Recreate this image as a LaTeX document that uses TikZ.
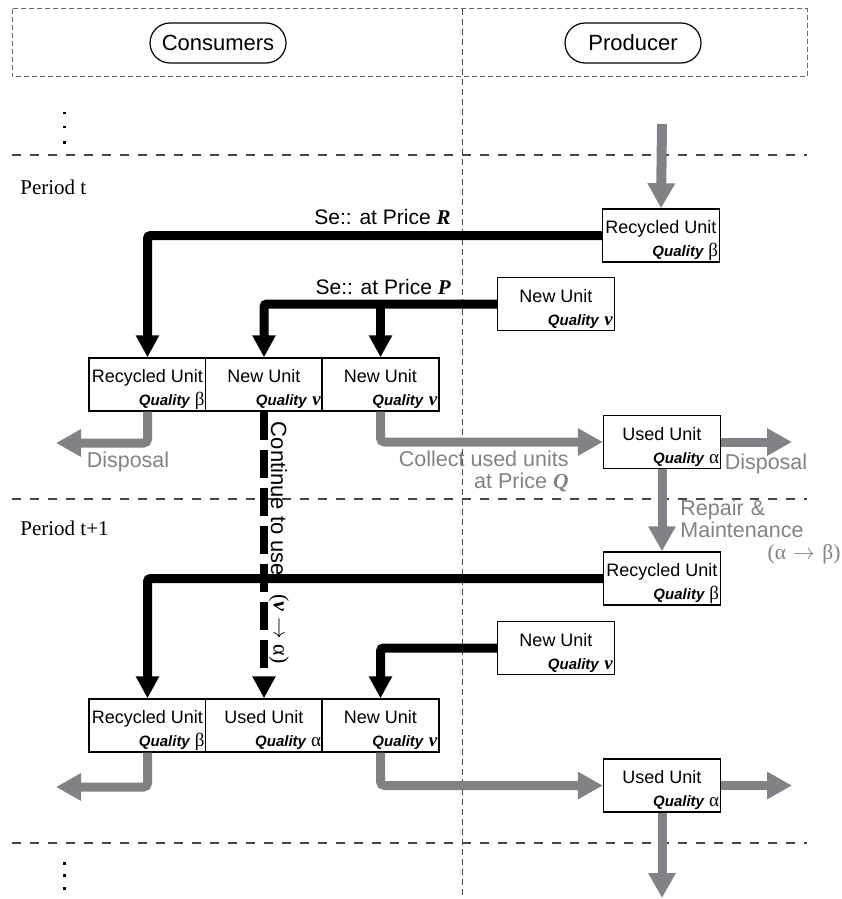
\documentclass[tikz,border=0pt]{standalone}
\usepackage{fontspec}
\setmainfont{Liberation Sans}
\newfontfamily\timesfont{Liberation Serif}
\usepackage{xcolor}
\usepackage{tikz}
\usetikzlibrary{
    arrows.meta,
    calc
}
\definecolor{flowgray}{RGB}{128,130,134}
\definecolor{linegray}{RGB}{70,70,70}
\tikzset{%
   actor/.style={
      draw,
      line width=0.6pt,
      rounded corners=10pt,
      minimum width=68pt,
      minimum height=20pt,
      font=\fontsize{11}{13}\selectfont
   },
   unit/.style={
      draw,
      line width=0.7pt,
      fill=white,
      inner sep=0pt,
      minimum width=58.5pt,
      minimum height=26.5pt,
      font=\fontsize{9}{11.5}\selectfont
   },
   sell/.style={
      line width=4.5pt,
      rounded corners=1.5pt,
      -{Triangle[length=11pt,width=11pt]}
   },
   keep/.style={
      line width=4pt,
      dash pattern=on 14pt off 5pt,
      -{Triangle[length=11pt,width=11pt]}
   },
   flow/.style={
      draw=flowgray,
      line width=4.5pt,
      rounded corners=2pt,
      -{Triangle[length=12.5pt,width=13pt]}
   },
   frame/.style={
      draw=black!60,
      line width=0.5pt,
      dash pattern=on 2.5pt off 1.5pt
   },
   midline/.style={
      draw=linegray,
      line width=0.5pt,
      dash pattern=on 3pt off 2pt
   },
   period/.style={
      draw=linegray,
      line width=0.75pt,
      dash pattern=on 4.5pt off 4.5pt
   },
   graytext/.style={
      text=flowgray,
      inner sep=0pt,
      font=\fontsize{10.75}{11}\selectfont
   },
   saletext/.style={
      inner sep=0pt,
      font=\fontsize{10.5}{12}\selectfont
   },
   periodtext/.style={
      inner sep=0pt,
      font=\timesfont\fontsize{10.5}{12}\selectfont
   },
}
\newcommand\qual[1]{{\fontsize{7.5}{9}\selectfont\bfseries\itshape Quality}~{\timesfont\fontsize{9.5}{11}\selectfont #1}}
\newcommand\unittext[2]{\begin{minipage}{57pt}\vspace*{5pt}\centering #1\par\raggedleft\qual{#2}\par\end{minipage}}
\newcommand\nutxt{\textbf{\textit{ν}}}
\newcommand\bfit[1]{{\timesfont\bfseries\itshape #1}}

\begin{document}
\begin{tikzpicture}[x=0.5pt, y=-0.5pt]
   \useasboundingbox (0,0) rectangle (841,899);
   \draw[frame] (12,9) rectangle (807,77);
   \draw[midline] (462,9) -- (462,899);
   \draw[period] (12,155) -- (807,155);
   \draw[period] (12,499) -- (807,499);
   \draw[period] (12,843) -- (807,843);
   \fill (63,112) rectangle (65.5,114.5);
   \fill (63,126) rectangle (65.5,128.5);
   \fill (63,141) rectangle (65.5,143.5);
   \fill (63,862) rectangle (65.5,864.5);
   \fill (63,874) rectangle (65.5,876.5);
   \fill (63,887) rectangle (65.5,889.5);

   \node[actor] (cons) at (218,43) {Consumers};
   \node[actor] (prod) at (633,43) {Producer};
   \node[periodtext, anchor=west] (pt) at (20,187) {Period t};
   \node[periodtext, anchor=west] (ptt) at (20,528) {Period t+1};

   \node[unit] (rp1) at (661,235.5) {\unittext{Recycled Unit}{β}};
   \node[unit] (np1) at (556,304) {\unittext{New Unit}{\nutxt}};
   \node[unit] (up1) at (662,442) {\unittext{Used Unit}{α}};
   \node[unit] (rp2) at (662,578.5) {\unittext{Recycled Unit}{β}};
   \node[unit] (np2) at (556,648) {\unittext{New Unit}{\nutxt}};
   \node[unit] (up2) at (662,785.5) {\unittext{Used Unit}{α}};

   \node[unit] (rc1) at (147.5,384.5) {\unittext{Recycled Unit}{β}};
   \node[unit] (nc1a) at (264,384.5) {\unittext{New Unit}{\nutxt}};
   \node[unit] (nc1b) at (380.5,384.5) {\unittext{New Unit}{\nutxt}};
   \node[unit] (rc2) at (147.5,725.5) {\unittext{Recycled Unit}{β}};
   \node[unit] (uc2) at (264,725.5) {\unittext{Used Unit}{α}};
   \node[unit] (nc2) at (380.5,725.5) {\unittext{New Unit}{\nutxt}};

   \node[saletext, anchor=east] (lblR) at (451,217) {Se:: at Price \bfit{R}};
   \node[saletext, anchor=east] (lblP) at (451,287) {Se:: at Price \bfit{P}};

   \draw[sell] (rp1.west) -| (rc1.north);
   \draw[sell] (np1.west) -| (nc1a.north);
   \draw[sell] (np1.west -| nc1b.north) -- (nc1b.north);
   \draw[sell] (rp2.west) -| (rc2.north);
   \draw[sell] (np2.west) -| (nc2.north);
   \draw[keep] (nc1a.south) -- (uc2.north);

   \coordinate (feedin) at (662,124);
   \coordinate (out1) at (56,443);
   \coordinate (out2) at (792,442);
   \coordinate (out3) at (56,787);
   \coordinate (out4) at (792,785.5);
   \coordinate (out5) at (662,898);
   \draw[flow, line width=5pt] (feedin) -- (rp1.north);
   \draw[flow] (rc1.south) |- (out1);
   \draw[flow] (nc1b.south) |- (up1.west);
   \draw[flow] (up1.east) -- (out2);
   \draw[flow] (up1.south) -- (rp2.north);
   \draw[flow] (rc2.south) |- (out3);
   \draw[flow] (nc2.south) |- (up2.west);
   \draw[flow] (up2.east) -- (out4);
   \draw[flow] (up2.south) -- (out5);

   \node[graytext] (dsp1) at (128,462) {Disposal};
   \node[graytext] (dsp2) at (766,464) {Disposal};
   \node[graytext, align=right, anchor=east] (coll) at (569,471) {Collect used units\\at Price \bfit{Q}};
   \node[graytext, align=left, text width=80pt, anchor=west] (rep) at (680,532) {Repair \&\\Maintenance\\\hspace*{0pt plus 1fill}{\timesfont (α $\rightarrow$ β)}};
   \node[saletext, rotate=-90, font=\fontsize{11}{13}\selectfont] (cont) at (279,499) {Continue to use};
   \node[saletext, rotate=-90, font=\timesfont\fontsize{11}{13}\selectfont] (nua) at (279,629) {(\nutxt{} $\rightarrow$ α)};
\end{tikzpicture}
\end{document}
